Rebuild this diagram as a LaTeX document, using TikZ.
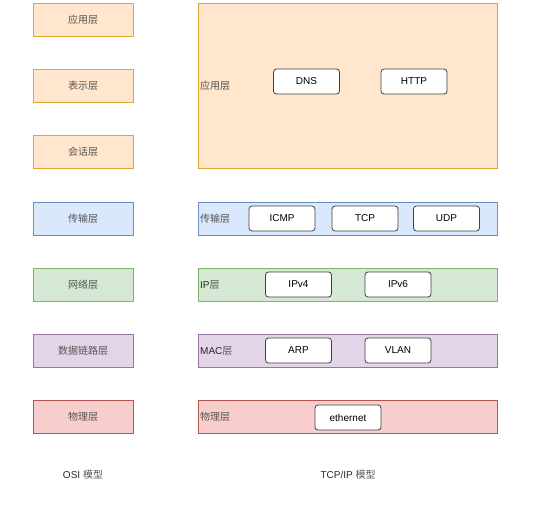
\documentclass[tikz,border=0pt]{standalone}
\usepackage{fontspec}
\setmainfont{Liberation Sans}
\newfontfamily\cjk{Noto Sans CJK SC}
\usetikzlibrary{positioning}

\definecolor{orgfill}{HTML}{FFE6CC}
\definecolor{orgline}{HTML}{E0A82E}
\definecolor{bluefill}{HTML}{DAE8FC}
\definecolor{blueline}{HTML}{6C8EBF}
\definecolor{grnfill}{HTML}{D5E8D4}
\definecolor{grnline}{HTML}{82B366}
\definecolor{purfill}{HTML}{E1D5E7}
\definecolor{purline}{HTML}{9673A6}
\definecolor{redfill}{HTML}{F8CECC}
\definecolor{redline}{HTML}{B85450}
\definecolor{txtgray}{HTML}{555555}

\begin{document}
\begin{tikzpicture}[x=1pt,y=-1pt]

\tikzset{layer/.style = {shape=rectangle,draw,line width=0.8pt,minimum width=100pt,minimum height=33pt,inner sep=0pt,font=\fontsize{10}{12}\selectfont\cjk,text=txtgray}}
\tikzset{band/.style = {layer,minimum width=299pt}}
\tikzset{proto/.style = {shape=rectangle,draw=black!75,fill=white,rounded corners=3pt,line width=0.8pt,minimum width=66pt,minimum height=25pt,inner sep=0pt,font=\fontsize{10}{12}\selectfont}}
\tikzset{tag/.style = {anchor=west,inner sep=0pt,font=\fontsize{10}{12}\selectfont,text=black!85}}
\tikzset{orange/.style = {fill=orgfill,draw=orgline}}
\tikzset{blue/.style = {fill=bluefill,draw=blueline}}
\tikzset{green/.style = {fill=grnfill,draw=grnline}}
\tikzset{purple/.style = {fill=purfill,draw=purline}}
\tikzset{red/.style = {fill=redfill,draw=redline}}

\useasboundingbox (0,0) rectangle (543,509);

%osi model
\node[layer, orange] (app) at (83,19.5) {应用层};
\node[layer, orange] (pres) at (83,85.5) {表示层};
\node[layer, orange] (sess) at (83,151.5) {会话层};
\node[layer, blue] (trans) at (83,218.5) {传输层};
\node[layer, green] (net) at (83,284.5) {网络层};
\node[layer, purple] (link) at (83,351) {数据链路层};
\node[layer, red] (phy) at (83,417) {物理层};
\node[tag, anchor=center] (osi) at (83,475) {OSI {\cjk\color{txtgray}模型}};

%tcp/ip model
\node[band, orange, minimum height=165pt] (tapp) at (347.5,85.5) {};
\node[band, blue] (ttrans) at (347.5,218.5) {};
\node[band, green] (tnet) at (347.5,284.5) {};
\node[band, purple] (tlink) at (347.5,351) {};
\node[band, red] (tphy) at (347.5,417) {};
\node[tag, anchor=center] (tcpip) at (348,475) {TCP/IP {\cjk\color{txtgray}模型}};

%row labels
\node[tag] (lapp) at (200,86) {\cjk\color{txtgray}应用层};
\node[tag] (ltrans) at (200,218.5) {\cjk\color{txtgray}传输层};
\node[tag] (lnet) at (200,284.5) {IP{\cjk\color{txtgray}层}};
\node[tag] (llink) at (200,351) {MAC{\cjk\color{txtgray}层}};
\node[tag] (lphy) at (200,417) {\cjk\color{txtgray}物理层};

%protocols
\node[proto] (dns) at (306.5,81.5) {DNS};
\node[proto] (http) at (414,81.5) {HTTP};
\node[proto] (icmp) at (282,218.5) {ICMP};
\node[proto] (tcp) at (365,218.5) {TCP};
\node[proto] (udp) at (446.5,218.5) {UDP};
\node[proto] (ipv4) at (298.5,284.5) {IPv4};
\node[proto] (ipv6) at (398,284.5) {IPv6};
\node[proto] (arp) at (298.5,350.5) {ARP};
\node[proto] (vlan) at (398,350.5) {VLAN};
\node[proto] (eth) at (348,417.5) {ethernet};

\end{tikzpicture}
\end{document}
